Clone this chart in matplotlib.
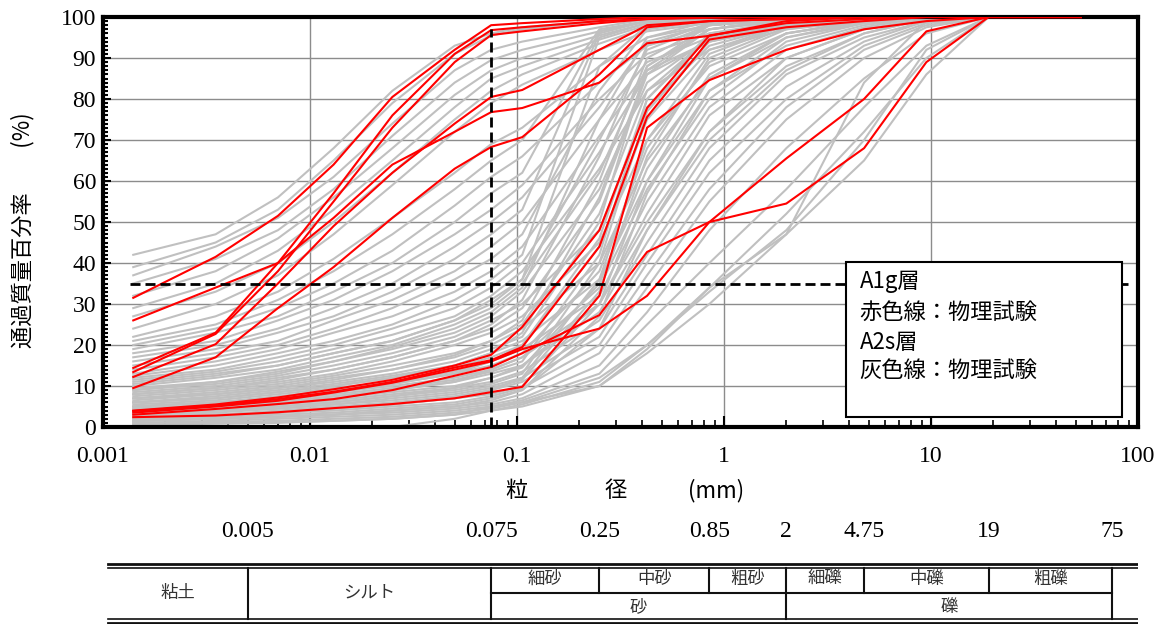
import numpy as np
import matplotlib
matplotlib.use('Agg')
import matplotlib.pyplot as plt
from matplotlib.ticker import LogLocator, MultipleLocator, NullFormatter
from matplotlib.patches import Rectangle
from matplotlib.transforms import blended_transform_factory

nan = np.nan
CJK = ['Noto Sans CJK JP', 'DejaVu Sans']
NUM = 'Liberation Serif'

# Grain sizes (mm) shared by all curves
sizes = [0.0014, 0.0035, 0.007, 0.013, 0.025, 0.05, 0.075, 0.106,
         0.25, 0.425, 0.85, 2, 4.75, 9.5, 19, 37.5, 53]

# A1g layer (red) - percent passing
red_fine = [
    [31.5, 41.5, 51.5, 64, 80.5, 92, 98, 98.5, 99.5, 100, 100, 100, 100, 100, 100, 100, 100],
    [14.4, 23, 40, 57, 76, 91, 96.8, 97.5, 99, 99.5, 100, 100, 100, 100, 100, 100, 100],
    [13.4, 22.7, 38, 55, 73, 89, 95.6, 96.5, 98.5, 99.5, 99.8, 100, 100, 100, 100, 100, 100],
    [12.2, 20.2, 35, 49, 62, 74, 80.5, 82.2, 92, 98, 99, 99.5, 100, 100, 100, 100, 100],
    [26, 34, 40, 51, 64, 72, 76.8, 77.8, 84, 93.6, 95.4, 99, 100, 100, 100, 100, 100],
    [9.5, 17, 29, 39, 51, 63, 68.3, 70.7, 86, 97.5, 99, 99.5, 100, 100, 100, 100, 100],
]
red_sand = [
    [4.0, 5.5, 7.2, 9.2, 11.5, 15, 17.6, 24.4, 48, 77.8, 95.5, 98.5, 99.5, 100, 100, 100, 100],
    [3.9, 5.2, 6.8, 8.6, 11, 14.5, 16.3, 19.5, 44, 75.6, 94.5, 97.5, 99, 100, 100, 100, 100],
    [3.5, 5.0, 6.4, 8.4, 10.8, 14, 16, 19, 24, 32, 50, 65.5, 80, 96.5, 100, 100, 100],
    [3.0, 4.4, 5.6, 6.8, 9, 12.5, 14.6, 18, 27.3, 42.7, 50, 54.5, 68, 89, 100, 100, 100],
    [2.4, 2.8, 3.6, 4.6, 5.6, 7, 8.5, 9.8, 32, 73, 84.6, 92, 97, 99, 100, 100, 100],
]

# A2s layer (gray) - percent passing
gray_fine = [
    [42, 47, 56, 68, 82, 93, 96, 97.5, 99, 100],
    [39, 45, 53, 65, 79, 91, 95.5, 97, 99, 99.5, 100],
    [37, 44, 51, 61, 74, 87, 92, 94, 97.5, 99.5, 100],
    [35, 41, 48, 58, 71, 84, 89.5, 92, 96.5, 99, 100],
    [32, 38, 46, 56, 68, 81, 87, 90, 95.5, 98.5, 99.5, 100],
    [29, 35, 43, 53, 65, 78, 85, 88, 94.5, 98, 99.5, 100],
    [27, 33, 40, 50, 62, 75, 82, 86, 93.5, 97.5, 99, 100],
    [24, 30, 37, 47, 59, 72, 79, 83.5, 92, 96.5, 98.5, 100],
]
gray_mid = [
    [22, 27, 33, 41, 51, 62, 69, 73, 88, 95, 98, 99.5, 100],
    [21, 25, 31, 38, 47, 58, 65, 70, 97, 99, 100],
    [20, 24, 29, 35, 43, 54, 61, 66, 84, 93, 97, 99, 100],
    [19, 23, 27, 33, 40, 50, 57, 62, 96.5, 99, 100],
    [18, 21, 26, 31, 38, 47, 53, 59, 80, 91, 96, 98.5, 100],
    [17, 20, 24, 29, 35, 44, 50, 56, 78, 94, 98, 99.5, 100],
    [16, 19, 23, 27, 33, 41, 47, 53, 96, 99, 100],
    [15, 18, 21, 26, 31, 38, 44, 50, 75, 89, 95, 98, 99.5, 100],
    [14, 17, 20, 24, 29, 36, 41, 47, 82, 97, 99, 100],
    [13, 16, 19, 23, 27, 33, 38, 44, 71, 87, 94, 97.5, 99.5, 100],
    [12.5, 15, 18, 21, 25, 31, 36, 42, 95, 98.5, 100],
    [12, 14, 17, 20, 24, 29, 34, 40, 67, 86, 94, 98, 100],
    [11.5, 13.5, 16, 19, 22.5, 27, 32, 38, 63, 82, 92, 97, 99, 100],
    [11, 13, 15, 18, 21, 26, 30, 36, 88, 98, 99.5, 100],
]
gray_sand = [
    [10.5, 12.5, 15, 18, 21, 26, 31, 36, 70, 92, 98, 99.5, 100],
    [10, 12, 14, 17, 20, 25, 29, 35, 62, 88, 97, 99.5, 100],
    [9.5, 11, 13, 16, 19, 23, 27, 33, 58, 84, 95, 99, 100],
    [9, 11, 13.5, 16, 19.5, 24, 28, 34, 75, 95, 99, 100],
    [9, 10.5, 12.5, 15, 18, 22, 26, 30, 48, 78, 93, 98, 99.5, 100],
    [8.5, 10, 12, 14, 17, 21, 24, 29, 55, 86, 97, 99.5, 100],
    [8, 9.5, 11.5, 14, 17, 21, 25, 31, 66, 93, 98.5, 100],
    [8, 9.5, 11, 13, 16, 20, 23, 27, 45, 70, 88, 96, 99, 100],
    [7.5, 9, 10.5, 12.5, 15, 18, 21, 25, 52, 82, 95, 98.5, 100],
    [7, 8.5, 10, 12, 14, 17, 20, 24, 40, 65, 85, 95, 98.5, 100],
    [7, 8, 9.5, 11.5, 14, 17.5, 21, 26, 60, 90, 98, 99.5, 100],
    [6.5, 8, 9.5, 11, 13, 16, 19, 22, 50, 88, 98, 99.5, 100],
    [6, 7.5, 9, 10.5, 12.5, 15, 18, 21, 36, 60, 82, 93, 98, 100],
    [6, 7, 8.5, 10, 12, 14.5, 17, 20, 44, 75, 92, 98, 99.5, 100],
    [6, 7, 8.5, 10, 12, 15, 18, 23, 56, 87, 97, 99.5, 100],
    [5.5, 6.5, 8, 9.5, 11, 13.5, 16, 19, 32, 55, 78, 92, 97.5, 100],
    [5, 6, 7.5, 9, 10.5, 13, 15, 18, 38, 68, 89, 97, 99.5, 100],
    [5, 6, 7, 8.5, 10.5, 13, 16, 20, 46, 80, 95, 99, 100],
    [5, 6, 7, 8.5, 10, 12, 14, 17, 30, 52, 76, 90, 97, 99.5, 100],
    [4.5, 5.5, 6.5, 8, 9.5, 11.5, 13.5, 16, 42, 80, 96, 99, 100],
    [4.5, 5, 6, 7.5, 9, 11, 14, 17, 34, 58, 80, 94, 98.5, 100],
    [4, 5, 6, 7.5, 9, 11, 13, 15, 28, 48, 72, 88, 96, 99.5, 100],
    [4, 5, 6, 7, 8.5, 10, 12, 14.5, 35, 63, 86, 96, 99, 100],
    [3.5, 4.5, 5.5, 6.5, 8, 9.5, 11, 13.5, 26, 45, 68, 86, 95, 99, 100],
    [3.5, 4, 5, 6, 7.5, 9, 10.5, 13, 40, 77, 94, 98.5, 100],
    [3.5, 4, 5, 6, 7.5, 9.5, 12, 15, 30, 50, 72, 90, 97, 99.5, 100],
    [3, 4, 4.5, 5.5, 7, 8.5, 10, 12, 24, 42, 65, 83, 94, 99, 100],
    [3, 3.5, 4.5, 5.5, 6.5, 8, 9.5, 11.5, 33, 66, 90, 97.5, 99.5, 100],
    [2.5, 3, 4, 5, 6, 7.5, 9, 11, 22, 40, 62, 80, 93, 98.5, 100],
    [2.5, 3, 3.5, 4.5, 5.5, 7, 8, 10, 30, 60, 85, 96, 99, 100],
    [2.5, 3, 3.5, 4.5, 5.5, 7, 9, 12, 36, 70, 91, 98, 99.5, 100],
    [2, 2.5, 3.5, 4, 5, 6, 7.5, 9.5, 20, 37, 58, 78, 92, 98, 100],
    [2, 2.5, 3, 3.5, 4.5, 5.5, 7, 9, 27, 57, 82, 95, 99, 100],
    [1.5, 2, 2.5, 3, 4, 5, 6, 8, 18, 34, 55, 75, 90, 97.5, 100],
    [1.5, 2, 2.5, 3, 4, 5, 6.5, 9, 24, 48, 70, 87, 96, 99.5, 100],
]
gray_coarse = [
    [1.5, 2, 2.5, 3, 3.5, 4.5, 5.5, 7, 15, 28, 48, 68, 85, 96, 100],
    [1, 1.5, 2, 2.5, 3, 4, 5, 6.5, 13, 25, 40, 58, 78, 93, 100],
    [1, 1.2, 1.5, 2, 2.5, 3.5, 4.5, 6, 12, 20, 34, 52, 72, 90, 100],
    [0.5, 1, 1.2, 1.5, 2, 3, 4, 5, 10, 18, 30, 47, 65, 86, 100],
    [0.5, 0.8, 1, 1.5, 2, 3, 5, 6, 10, 19, 34, 47, 84, 99, 100],
    [nan, nan, nan, nan, 0, 2, 4, 5.5, 11, 20, 33, 48, 70, 92, 100],
]

ref_size = 0.075      # fines boundary (mm)
ref_pass = 35         # percent passing line

# Soil classification boundaries (mm) and names
bounds = [0.005, 0.075, 0.25, 0.85, 2, 4.75, 19, 75]
bound_labels = ['0.005', '0.075', '0.25', '0.85', '2', '4.75', '19', '75']
upper_names = ['粘土', 'シルト', '細砂', '中砂', '粗砂', '細礫', '中礫', '粗礫']
lower_names = ['砂', '礫']


fig = plt.figure(figsize=(11.66, 6.24), dpi=100)
ax = fig.add_axes([103 / 1166, 1 - 427 / 624, 1035 / 1166, 410 / 624])

for group in (gray_fine, gray_mid, gray_sand, gray_coarse):
    for vals in group:
        ax.plot(sizes[:len(vals)], vals, color='#c0c0c0', lw=1.5, zorder=2)

for vals in red_fine + red_sand:
    ax.plot(sizes[:len(vals)], vals, color='#ff0000', lw=1.5, zorder=3)

# reference dashed lines
ax.plot([0.00135, 89], [ref_pass, ref_pass], color='black', lw=2,
        dashes=(3.6, 1.8), zorder=4)
ax.plot([ref_size, ref_size], [0, 97], color='black', lw=2,
        dashes=(3.6, 1.8), zorder=4)

ax.set_xscale('log')
ax.set_xlim(0.001, 100)
ax.set_ylim(0, 100)
ax.set_xticks([0.001, 0.01, 0.1, 1, 10, 100])
ax.set_xticklabels(['0.001', '0.01', '0.1', '1', '10', '100'])
ax.xaxis.set_minor_locator(LogLocator(base=10, subs=np.arange(2, 10), numticks=20))
ax.xaxis.set_minor_formatter(NullFormatter())
ax.set_yticks(range(0, 101, 10))
ax.yaxis.set_minor_locator(MultipleLocator(1))

ax.set_axisbelow(True)
ax.grid(True, which='major', color='#8c8c8c', lw=1)
ax.tick_params(which='both', direction='in', top=False, right=False, color='black')
ax.tick_params(axis='x', which='major', length=8, width=1.5, pad=14)
ax.tick_params(axis='x', which='minor', length=5, width=1.2)
ax.tick_params(axis='y', which='major', length=6, width=1.5, pad=5)
ax.tick_params(axis='y', which='minor', length=3.5, width=1.5)
for lab in ax.get_xticklabels() + ax.get_yticklabels():
    lab.set_fontfamily(NUM)
    lab.set_fontsize(17)
for sp in ax.spines.values():
    sp.set_linewidth(3)

ax.set_ylabel('通過質量百分率　　(%)', family=CJK, fontsize=16)
ax.yaxis.set_label_coords(-0.066, 0.48)

trans = blended_transform_factory(ax.transData, ax.transAxes)
ax.text(0.099, -0.155, '粒', transform=trans, family=CJK, fontsize=16,
        ha='center', va='center')
ax.text(0.30, -0.155, '径', transform=trans, family=CJK, fontsize=16,
        ha='center', va='center')
ax.text(0.92, -0.155, '(mm)', transform=trans, family=CJK, fontsize=16,
        ha='center', va='center')

# legend box
ax.add_patch(Rectangle((0.718, 0.024), 0.267, 0.378, transform=ax.transAxes,
                       facecolor='white', edgecolor='black', lw=1.5, zorder=6))
legend_lines = ['A1g層', '赤色線：物理試験', 'A2s層', '灰色線：物理試験']
for txt, yy in zip(legend_lines, [0.354, 0.280, 0.207, 0.137]):
    ax.text(0.731, yy, txt, transform=ax.transAxes, family=CJK, fontsize=16,
            ha='left', va='center', zorder=7)

# classification table under the chart (y in pixel rows)
tab = fig.add_axes([103 / 1166, 0, 1035 / 1166, 114 / 624])
tab.set_xscale('log')
tab.set_xlim(0.001, 100)
tab.set_ylim(624, 510)
tab.axis('off')

for b, lab in zip(bounds, bound_labels):
    tab.text(b, 531, lab, family=NUM, fontsize=17, ha='center', va='center')

x_left, x_right = 0.00106, 100
for yy, lw in [(563.5, 2), (567.5, 1.2), (619, 1.2), (622.5, 2)]:
    tab.plot([x_left, x_right], [yy, yy], color='#111111', lw=lw)
tab.plot([bounds[1], bounds[-1]], [592.5, 592.5], color='#111111', lw=1.5)
full_rows = [0.005, 0.075, 2, 75]
for b in bounds:
    y_end = 619 if b in full_rows else 592.5
    tab.plot([b, b], [567.5, y_end], color='#111111', lw=1.5)

edges = [x_left] + bounds
for i, name in enumerate(upper_names):
    xc = np.sqrt(edges[i] * edges[i + 1])
    yy = 593 if i < 2 else 579
    tab.text(xc, yy, name, family=CJK, fontsize=12.5, color='#333333',
             ha='center', va='center')
tab.text(np.sqrt(bounds[1] * bounds[4]), 607, lower_names[0], family=CJK,
         fontsize=12.5, color='#333333', ha='center', va='center')
tab.text(np.sqrt(bounds[4] * bounds[7]), 607, lower_names[1], family=CJK,
         fontsize=12.5, color='#333333', ha='center', va='center')

fig.savefig('out.png', dpi=100)
